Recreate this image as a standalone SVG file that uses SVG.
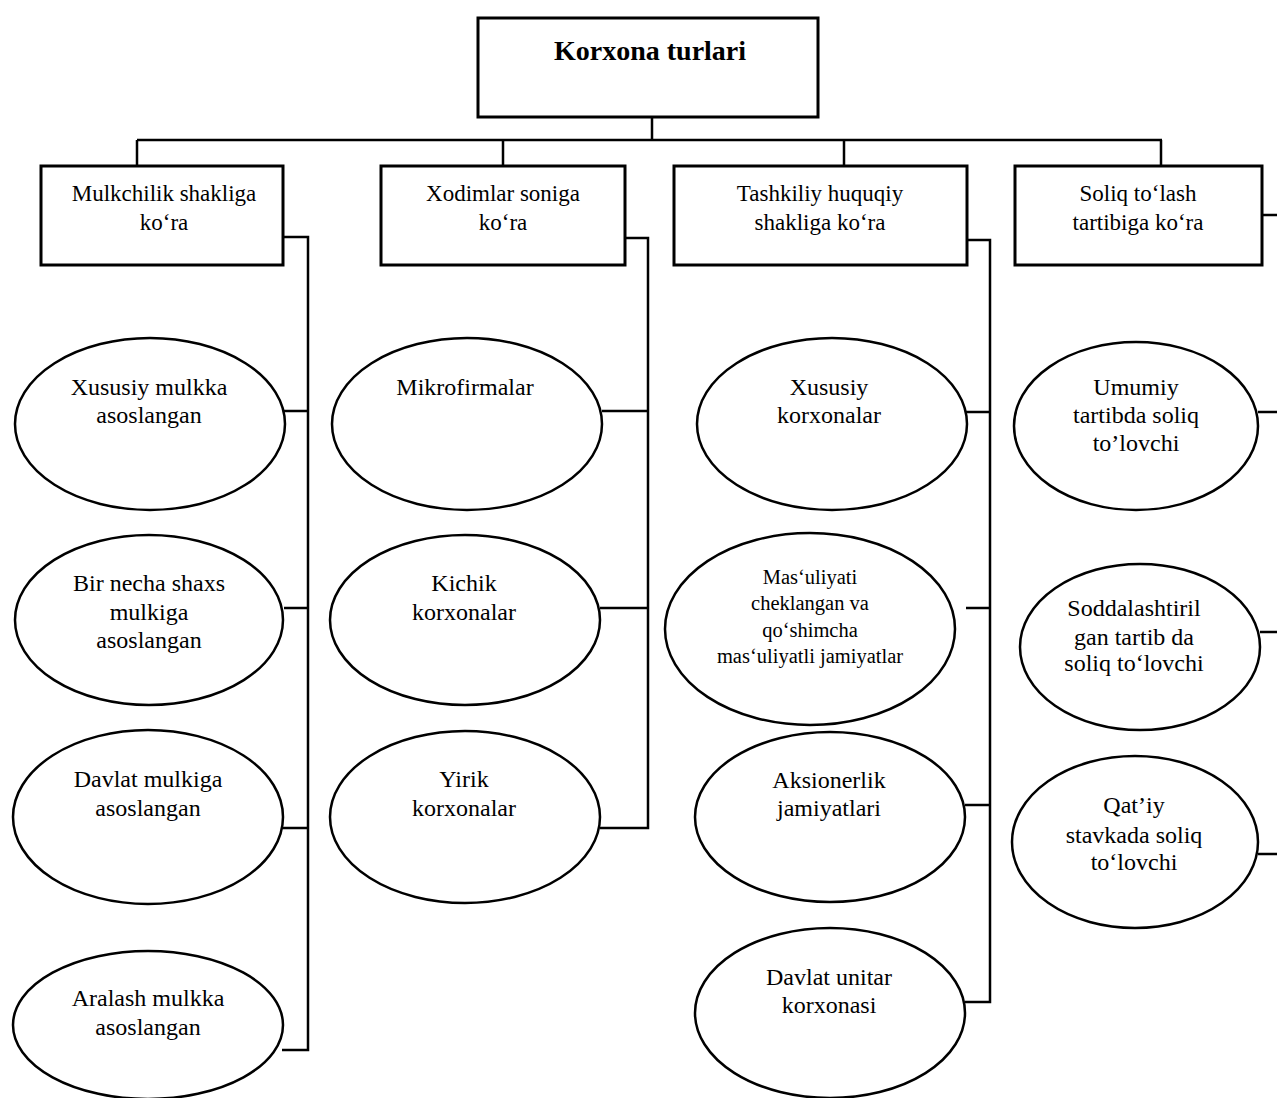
<svg xmlns="http://www.w3.org/2000/svg" width="1277" height="1098" viewBox="0 0 1277 1098">
<style>
.box{fill:#fff;stroke:#000;stroke-width:3}
.ell{fill:#fff;stroke:#000;stroke-width:2.5}
.ln{fill:none;stroke:#000;stroke-width:2.5}
text{font-family:"Liberation Serif","Times New Roman",serif;fill:#000;text-anchor:middle}
.t{font-size:23px}
.e{font-size:24px}
.s{font-size:20.5px}
.h{font-size:28px;font-weight:bold}
</style>
<rect width="1277" height="1098" fill="#fff"/>
<g id="connectors">
<path class="ln" d="M652 117V140M137 140H1162M137 140V166M503 140V166M844 140V166M1161 140V166"/>
<path class="ln" d="M283 237H308V1050H282M284 411H308M284 608H308M282 828H308"/>
<path class="ln" d="M625 238H648V828H600M602 411H648M600 608H648"/>
<path class="ln" d="M967 240H990V1002H965M966 412H990M966 608H990M965 805H990"/>
<path class="ln" d="M1262 215H1277M1258 412H1277M1260 632H1277M1258 854H1277"/>
</g>
<g id="root"><rect class="box" x="478" y="18" width="340" height="99"/><text class="h" x="650" y="60">Korxona turlari</text></g>
<g id="c1"><rect class="box" x="41" y="166" width="242" height="99"/><text class="t" x="164" y="201">Mulkchilik shakliga</text><text class="t" x="164" y="230">ko‘ra</text></g>
<g id="c2"><rect class="box" x="381" y="166" width="244" height="99"/><text class="t" x="503" y="201">Xodimlar soniga</text><text class="t" x="503" y="230">ko‘ra</text></g>
<g id="c3"><rect class="box" x="674" y="166" width="293" height="99"/><text class="t" x="820" y="201">Tashkiliy huquqiy</text><text class="t" x="820" y="230">shakliga ko‘ra</text></g>
<g id="c4"><rect class="box" x="1015" y="166" width="247" height="99"/><text class="t" x="1138" y="201">Soliq to‘lash</text><text class="t" x="1138" y="230">tartibiga ko‘ra</text></g>
<g id="e1"><ellipse class="ell" cx="150" cy="424" rx="135" ry="86"/><text class="e" x="149" y="395">Xususiy mulkka</text><text class="e" x="149" y="423">asoslangan</text></g>
<g id="e2"><ellipse class="ell" cx="149" cy="620" rx="134" ry="85"/><text class="e" x="149" y="591">Bir necha shaxs</text><text class="e" x="149" y="620">mulkiga</text><text class="e" x="149" y="648">asoslangan</text></g>
<g id="e3"><ellipse class="ell" cx="148" cy="817" rx="135" ry="87"/><text class="e" x="148" y="787">Davlat mulkiga</text><text class="e" x="148" y="816">asoslangan</text></g>
<g id="e4"><ellipse class="ell" cx="148" cy="1025" rx="135" ry="74"/><text class="e" x="148" y="1006">Aralash mulkka</text><text class="e" x="148" y="1035">asoslangan</text></g>
<g id="m1"><ellipse class="ell" cx="467" cy="424" rx="135" ry="86"/><text class="e" x="465" y="395">Mikrofirmalar</text></g>
<g id="m2"><ellipse class="ell" cx="465" cy="620" rx="135" ry="85"/><text class="e" x="464" y="591">Kichik</text><text class="e" x="464" y="620">korxonalar</text></g>
<g id="m3"><ellipse class="ell" cx="465" cy="817" rx="135" ry="86"/><text class="e" x="464" y="787">Yirik</text><text class="e" x="464" y="816">korxonalar</text></g>
<g id="t1"><ellipse class="ell" cx="832" cy="424" rx="135" ry="86"/><text class="e" x="829" y="395">Xususiy</text><text class="e" x="829" y="423">korxonalar</text></g>
<g id="t2"><ellipse class="ell" cx="810" cy="629" rx="145" ry="96"/><text class="s" x="810" y="584">Mas‘uliyati</text><text class="s" x="810" y="610">cheklangan va</text><text class="s" x="810" y="637">qo‘shimcha</text><text class="s" x="810" y="663">mas‘uliyatli jamiyatlar</text></g>
<g id="t3"><ellipse class="ell" cx="830" cy="817" rx="135" ry="85"/><text class="e" x="829" y="788">Aksionerlik</text><text class="e" x="829" y="816">jamiyatlari</text></g>
<g id="t4"><ellipse class="ell" cx="830" cy="1013" rx="135" ry="85"/><text class="e" x="829" y="985">Davlat unitar</text><text class="e" x="829" y="1013">korxonasi</text></g>
<g id="s1"><ellipse class="ell" cx="1136" cy="426" rx="122" ry="84"/><text class="e" x="1136" y="395">Umumiy</text><text class="e" x="1136" y="423">tartibda soliq</text><text class="e" x="1136" y="451">to’lovchi</text></g>
<g id="s2"><ellipse class="ell" cx="1140" cy="647" rx="120" ry="83"/><text class="e" x="1134" y="616">Soddalashtiril</text><text class="e" x="1134" y="645">gan tartib da</text><text class="e" x="1134" y="671">soliq to‘lovchi</text></g>
<g id="s3"><ellipse class="ell" cx="1135" cy="842" rx="123" ry="86"/><text class="e" x="1134" y="813">Qat’iy</text><text class="e" x="1134" y="843">stavkada soliq</text><text class="e" x="1134" y="870">to‘lovchi</text></g>
</svg>
